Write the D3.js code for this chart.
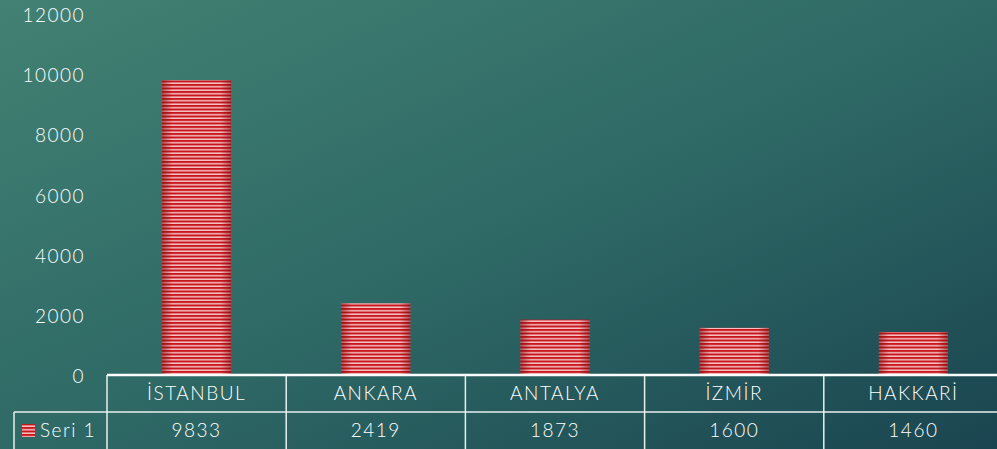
<!DOCTYPE html>
<html><head><meta charset="utf-8">
<script src="https://cdn.jsdelivr.net/npm/d3@7"></script>
<style>html,body{margin:0;padding:0;overflow:hidden;background:#2f6a66}svg{display:block}</style>
</head><body>
<script>
const categories = ["İSTANBUL","ANKARA","ANTALYA","İZMİR","HAKKARİ"];
const seriesName = "Seri 1";
const values = [9833, 2419, 1873, 1600, 1460];
const yTicks = [0, 2000, 4000, 6000, 8000, 10000, 12000];

const W = 997, H = 449;
const svg = d3.select("body").append("svg").attr("width", W).attr("height", H);
const defs = svg.append("defs");
const bg = defs.append("linearGradient").attr("id","bg").attr("x1","0").attr("y1","0").attr("x2","1").attr("y2","1");
bg.append("stop").attr("offset","0%").attr("stop-color","#428173");
bg.append("stop").attr("offset","50%").attr("stop-color","#2f6a66");
bg.append("stop").attr("offset","100%").attr("stop-color","#1a4550");
svg.append("rect").attr("width",W).attr("height",H).attr("fill","url(#bg)");

const pat = defs.append("pattern").attr("id","stripes").attr("patternUnits","userSpaceOnUse")
  .attr("width",10).attr("height",3.5);
pat.append("rect").attr("width",10).attr("height",3.5).attr("fill","#f7c4c4");
pat.append("rect").attr("width",10).attr("height",2).attr("fill","#c8161e");
const edge = defs.append("linearGradient").attr("id","edge").attr("x1","0").attr("x2","1");
edge.append("stop").attr("offset","0%").attr("stop-color","#7a0a0e").attr("stop-opacity",0.55);
edge.append("stop").attr("offset","15%").attr("stop-color","#7a0a0e").attr("stop-opacity",0);
edge.append("stop").attr("offset","85%").attr("stop-color","#7a0a0e").attr("stop-opacity",0);
edge.append("stop").attr("offset","100%").attr("stop-color","#7a0a0e").attr("stop-opacity",0.55);

const font = "'Century Gothic','Lato','Open Sans',sans-serif";
const fs = "19px", fw = 300, ls = "1.5px";
const tableLeft = 107, tableRight = 1003, legendLeft = 14;
const row1Top = 375, row2Top = 412, row2Bottom = 451;

const x = d3.scaleBand().domain(categories).range([tableLeft, tableRight]).paddingInner(0.615).paddingOuter(0.3075);
const xCell = d3.scaleBand().domain(categories).range([tableLeft, tableRight]).padding(0);
const y = d3.scaleLinear().domain([0, 12000]).range([376, 15]);

function styleText(sel){
  sel.attr("fill","#ffffff").style("font-family",font).style("font-size",fs).style("font-weight",fw).style("letter-spacing",ls);
}

// y axis labels
const yAxis = d3.axisLeft(y).tickValues(yTicks).tickSize(0).tickPadding(0).tickFormat(d3.format("d"));
const ga = svg.append("g").attr("transform","translate(85,0)").call(yAxis);
ga.select(".domain").remove();
ga.selectAll("text").call(styleText).attr("dy","0.35em");

// bars
const bars = svg.append("g");
bars.selectAll("rect.b").data(values).join("rect").attr("class","b")
  .attr("x",(d,i)=>x(categories[i])).attr("width",x.bandwidth())
  .attr("y",d=>y(d)).attr("height",d=>y(0)-y(d)).attr("fill","url(#stripes)");
bars.selectAll("rect.e").data(values).join("rect").attr("class","e")
  .attr("x",(d,i)=>x(categories[i])).attr("width",x.bandwidth())
  .attr("y",d=>y(d)).attr("height",d=>y(0)-y(d)).attr("fill","url(#edge)");

// data table
const t = svg.append("g");
const lc = "#e8f0ee";
t.append("line").attr("x1",tableLeft).attr("x2",tableRight).attr("y1",row1Top).attr("y2",row1Top).attr("stroke","#ffffff").attr("stroke-width",2.5);
t.append("line").attr("x1",legendLeft).attr("x2",tableRight).attr("y1",row2Top).attr("y2",row2Top).attr("stroke",lc).attr("stroke-width",1.5);
t.append("line").attr("x1",legendLeft).attr("x2",legendLeft).attr("y1",row2Top).attr("y2",row2Bottom).attr("stroke",lc).attr("stroke-width",1.5);
t.selectAll("line.v").data(categories).join("line").attr("class","v")
  .attr("x1",d=>xCell(d)).attr("x2",d=>xCell(d)).attr("y1",row1Top).attr("y2",row2Bottom)
  .attr("stroke",lc).attr("stroke-width",1.5);
t.selectAll("text.c").data(categories).join("text").attr("class","c")
  .attr("x",d=>xCell(d)+xCell.bandwidth()/2).attr("y",(row1Top+row2Top)/2).attr("dy","0.35em")
  .attr("text-anchor","middle").call(styleText).text(d=>d);
t.selectAll("text.v").data(values).join("text").attr("class","v")
  .attr("x",(d,i)=>xCell(categories[i])+xCell.bandwidth()/2).attr("y",(row2Top+449)/2).attr("dy","0.35em")
  .attr("text-anchor","middle").call(styleText).text(d=>d);
// legend key
t.append("rect").attr("x",22).attr("y",424).attr("width",13).attr("height",13).attr("fill","url(#stripes)");
t.append("text").attr("x",40).attr("y",(row2Top+449)/2).attr("dy","0.35em").call(styleText).text(seriesName);
</script>
</body></html>
